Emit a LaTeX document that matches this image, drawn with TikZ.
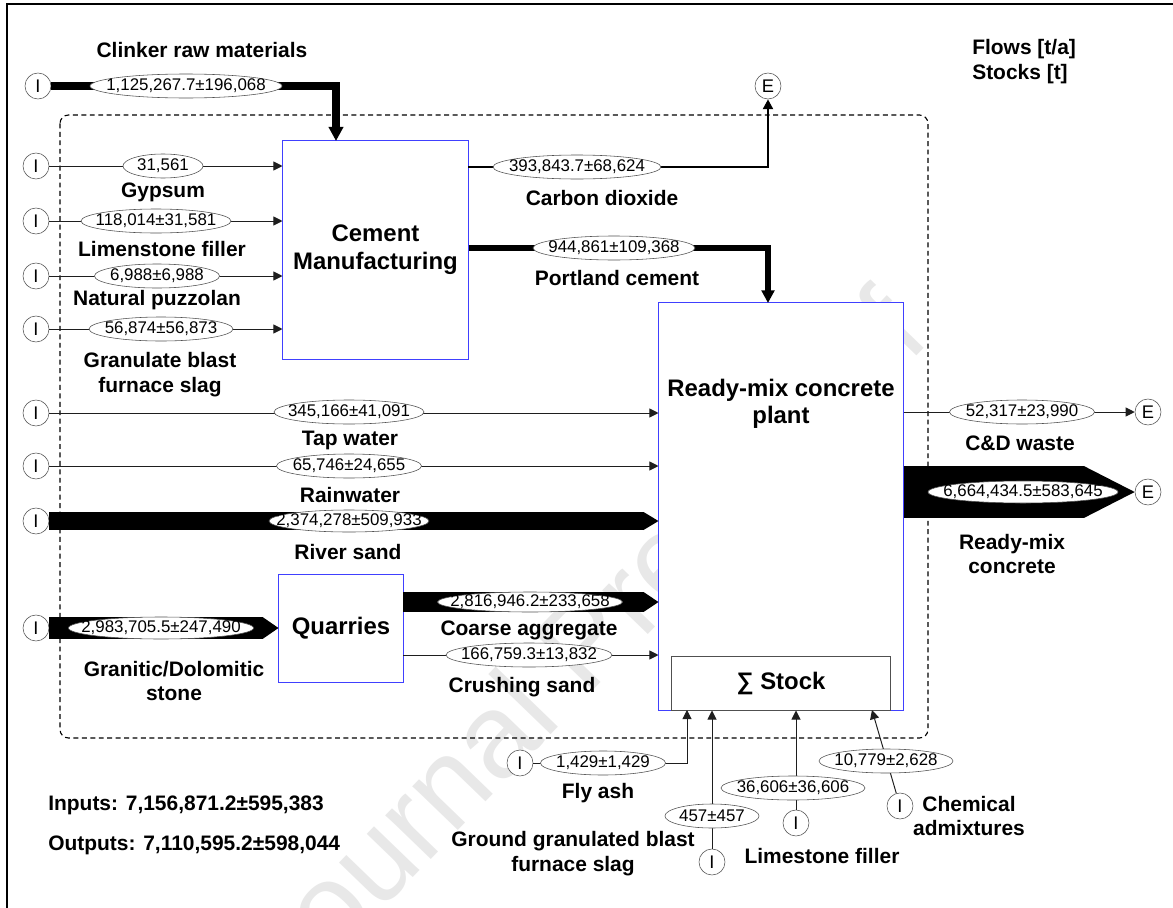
\documentclass[tikz,border=0pt]{standalone}
\usepackage{fontspec}
\setmainfont{Liberation Sans}
\usepackage{mathtools}
\usetikzlibrary{shapes.geometric, arrows.meta}
\definecolor{procblue}{RGB}{64,64,255}
\definecolor{stockgray}{RGB}{80,80,80}
\definecolor{linegray}{RGB}{30,30,30}
\definecolor{markgray}{RGB}{232,232,232}

\begin{document}
\begin{tikzpicture}[
  x=0.025cm, y=-0.025cm,
  io/.style={circle, draw=stockgray, fill=white, minimum size=0.65cm, inner sep=0pt,
    font=\fontsize{13}{13}\selectfont},
  proc/.style={rectangle, draw=procblue, fill=white, line width=0.7pt, align=center,
    font=\bfseries\fontsize{17}{20}\selectfont},
  title/.style={align=center, font=\bfseries\fontsize{17}{19.5}\selectfont},
  stockbox/.style={rectangle, draw=stockgray, fill=white, line width=0.7pt,
    font=\bfseries\fontsize{17}{20}\selectfont},
  val/.style={ellipse, draw=stockgray, fill=white, inner sep=0pt, minimum height=0.6cm,
    minimum width=#1, font=\fontsize{12}{12}\selectfont},
  lbl/.style={font=\bfseries\fontsize{14.9}{17.7}\selectfont, align=center},
  flow/.style={-{Triangle[length=6.5pt, width=6.5pt]}, line width=0.7pt, draw=linegray},
  heavy/.style 2 args={-{Triangle[length=#2, width=#2]}, line width=#1, draw=black},
  band/.style 2 args={line width=#1, draw=black,
    -{Triangle[length=#2, width=0pt 1, line width=0pt]}}
]
\useasboundingbox (0,0) rectangle (1173,908);

% watermark and frame
\node[rotate=46, text=markgray, font=\fontsize{85}{85}\selectfont] (mark) at (590,650) {Journal Pre-proof};
\draw[line width=1pt] (7,908) -- (7,4) -- (1173,4);
\draw[dash pattern=on 3.5pt off 2.5pt, draw=black, line width=0.8pt, rounded corners=6pt]
  (60,115) rectangle (928,738);

% processes
\node[proc, minimum width=4.625cm, minimum height=5.45cm] (cem) at (375.5,250) {Cement\\Manufacturing};
\node[proc, minimum width=6.1cm, minimum height=10.175cm] (rmc) at (781,506.5) {};
\node[title] (rmcT) at (781,404) {Ready-mix concrete\\plant};
\node[stockbox, minimum width=5.45cm, minimum height=1.35cm] (stock) at (781,683) {∑ Stock};
\node[proc, minimum width=3.1cm, minimum height=2.7cm] (quarries) at (341,628) {Quarries};

% imports and exports
\node[io] (iClk) at (38,86) {I};
\node[io] (iGyp) at (36,166) {I};
\node[io] (iLim) at (36,221) {I};
\node[io] (iNat) at (36,276) {I};
\node[io] (iGra) at (36,329) {I};
\node[io] (iTap) at (36,413) {I};
\node[io] (iRain) at (36,466) {I};
\node[io] (iRiv) at (36,521) {I};
\node[io] (iGrn) at (36,628) {I};
\node[io] (iFly) at (520,763) {I};
\node[io] (iGgb) at (712,862) {I};
\node[io] (iLim2) at (796,823) {I};
\node[io] (iChe) at (900,806) {I};
\node[io] (eCo2) at (768,86) {E};
\node[io] (eCdw) at (1148,412) {E};
\node[io] (eRmc) at (1148,492) {E};

\coordinate (clkIn) at (336,141);
\coordinate (co2Out) at (468,167);
\coordinate (pcIn) at (768,303);
\coordinate (caOut) at (403,602);
\coordinate (csOut) at (403,655);
\coordinate (flyIn) at (687,710);
\coordinate (cheIn) at (872,710);

% flows
\draw[heavy={5.7pt}{10pt}] (iClk) -| (clkIn);
\draw[flow] (iGyp) -- (iGyp -| cem.west);
\draw[flow] (iLim) -- (iLim -| cem.west);
\draw[flow] (iNat) -- (iNat -| cem.west);
\draw[flow] (iGra) -- (iGra -| cem.west);
\draw[heavy={1.8pt}{7pt}] (co2Out) -| (eCo2);
\draw[heavy={4.3pt}{9pt}] (cem.east |- 0,248) -| (pcIn);
\draw[flow] (iTap) -- (iTap -| rmc.west);
\draw[flow] (iRain) -- (iRain -| rmc.west);
\draw[band={12.8pt}{10.6pt}] (iRiv.east) -- (iRiv -| rmc.west);
\draw[band={15.6pt}{11.3pt}] (iGrn.east) -- (quarries.west);
\draw[band={14.2pt}{10.6pt}] (caOut) -- (caOut -| rmc.west);
\draw[flow] (csOut) -- (csOut -| rmc.west);
\draw[flow] (rmc.east |- eCdw) -- (eCdw);
\draw[band={36.8pt}{36pt}] (rmc.east |- eRmc) -- (eRmc.west);
\draw[flow] (iFly) -| (flyIn);
\draw[flow] (iGgb) -- (iGgb |- stock.south);
\draw[flow] (iLim2) -- (iLim2 |- stock.south);
\draw[flow] (iChe) -- (cheIn);

% values
\node[val=4.8cm] (vClk) at (186,86) {\clap{1,125,267.7±196,068}};
\node[val=2cm] (vGyp) at (163,166) {\clap{31,561}};
\node[val=3.75cm] (vLim) at (156,221) {\clap{118,014±31,581}};
\node[val=3.125cm] (vNat) at (157,276) {\clap{6,988±6,988}};
\node[val=3.6cm] (vGra) at (161,329) {\clap{56,874±56,873}};
\node[val=4.2cm] (vCo2) at (577,167) {\clap{393,843.7±68,624}};
\node[val=4.05cm] (vPc) at (614,248) {\clap{944,861±109,368}};
\node[val=3.75cm] (vTap) at (349,412) {\clap{345,166±41,091}};
\node[val=3.625cm] (vRain) at (349,466) {\clap{65,746±24,655}};
\node[val=4cm, minimum height=0.55cm] (vRiv) at (349,521) {\clap{2,374,278±509,933}};
\node[val=4.625cm, minimum height=0.55cm] (vGrn) at (161,628) {\clap{2,983,705.5±247,490}};
\node[val=4.625cm, minimum height=0.5cm] (vCa) at (530,602) {\clap{2,816,946.2±233,658}};
\node[val=4.15cm] (vCs) at (529,655) {\clap{166,759.3±13,832}};
\node[val=3.625cm] (vCdw) at (1022,412) {\clap{52,317±23,990}};
\node[val=4.75cm, minimum height=0.55cm] (vRmc) at (1023,492) {\clap{6,664,434.5±583,645}};
\node[val=3.125cm] (vFly) at (603,763) {\clap{1,429±1,429}};
\node[val=2.35cm] (vGgb) at (712,816) {\clap{457±457}};
\node[val=3.6cm] (vLim2) at (793,788) {\clap{36,606±36,606}};
\node[val=3.35cm] (vChe) at (886,761) {\clap{10,779±2,628}};

% labels
\node[lbl] (lClk) at (202,50) {Clinker raw materials};
\node[lbl] (lGyp) at (163,192) {Gypsum};
\node[lbl] (lLim) at (162,249) {Limenstone filler};
\node[lbl] (lNat) at (157,300) {Natural puzzolan};
\node[lbl] (lGra) at (160,375) {Granulate blast\\furnace slag};
\node[lbl] (lCo2) at (602,198) {Carbon dioxide};
\node[lbl] (lPc) at (617,278) {Portland cement};
\node[lbl] (lTap) at (350,440) {Tap water};
\node[lbl] (lRain) at (350,495) {Rainwater};
\node[lbl] (lRiv) at (348,552) {River sand};
\node[lbl] (lGrn) at (174,681) {Granitic/Dolomitic\\stone};
\node[lbl] (lCa) at (529,630) {Coarse aggregate};
\node[lbl] (lCs) at (522,687) {Crushing sand};
\node[lbl] (lCdw) at (1020,443) {C\&D waste};
\node[lbl] (lRmc) at (1012,554) {Ready-mix\\concrete};
\node[lbl] (lFly) at (598,793) {Fly ash};
\node[lbl] (lGgb) at (573,854) {Ground granulated blast\\furnace slag};
\node[lbl] (lLim2) at (822,856) {Limestone filler};
\node[lbl] (lChe) at (969,816) {Chemical\\admixtures};
\node[lbl, align=left, anchor=west, inner sep=0pt] (legend) at (972,62) {Flows [t/a]\\Stocks [t]};
\node[lbl, anchor=west, inner sep=0pt] (inTot) at (48,805) {Inputs: 7,156,871.2±595,383};
\node[lbl, anchor=west, inner sep=0pt] (outTot) at (48,845) {Outputs: 7,110,595.2±598,044};
\end{tikzpicture}
\end{document}
